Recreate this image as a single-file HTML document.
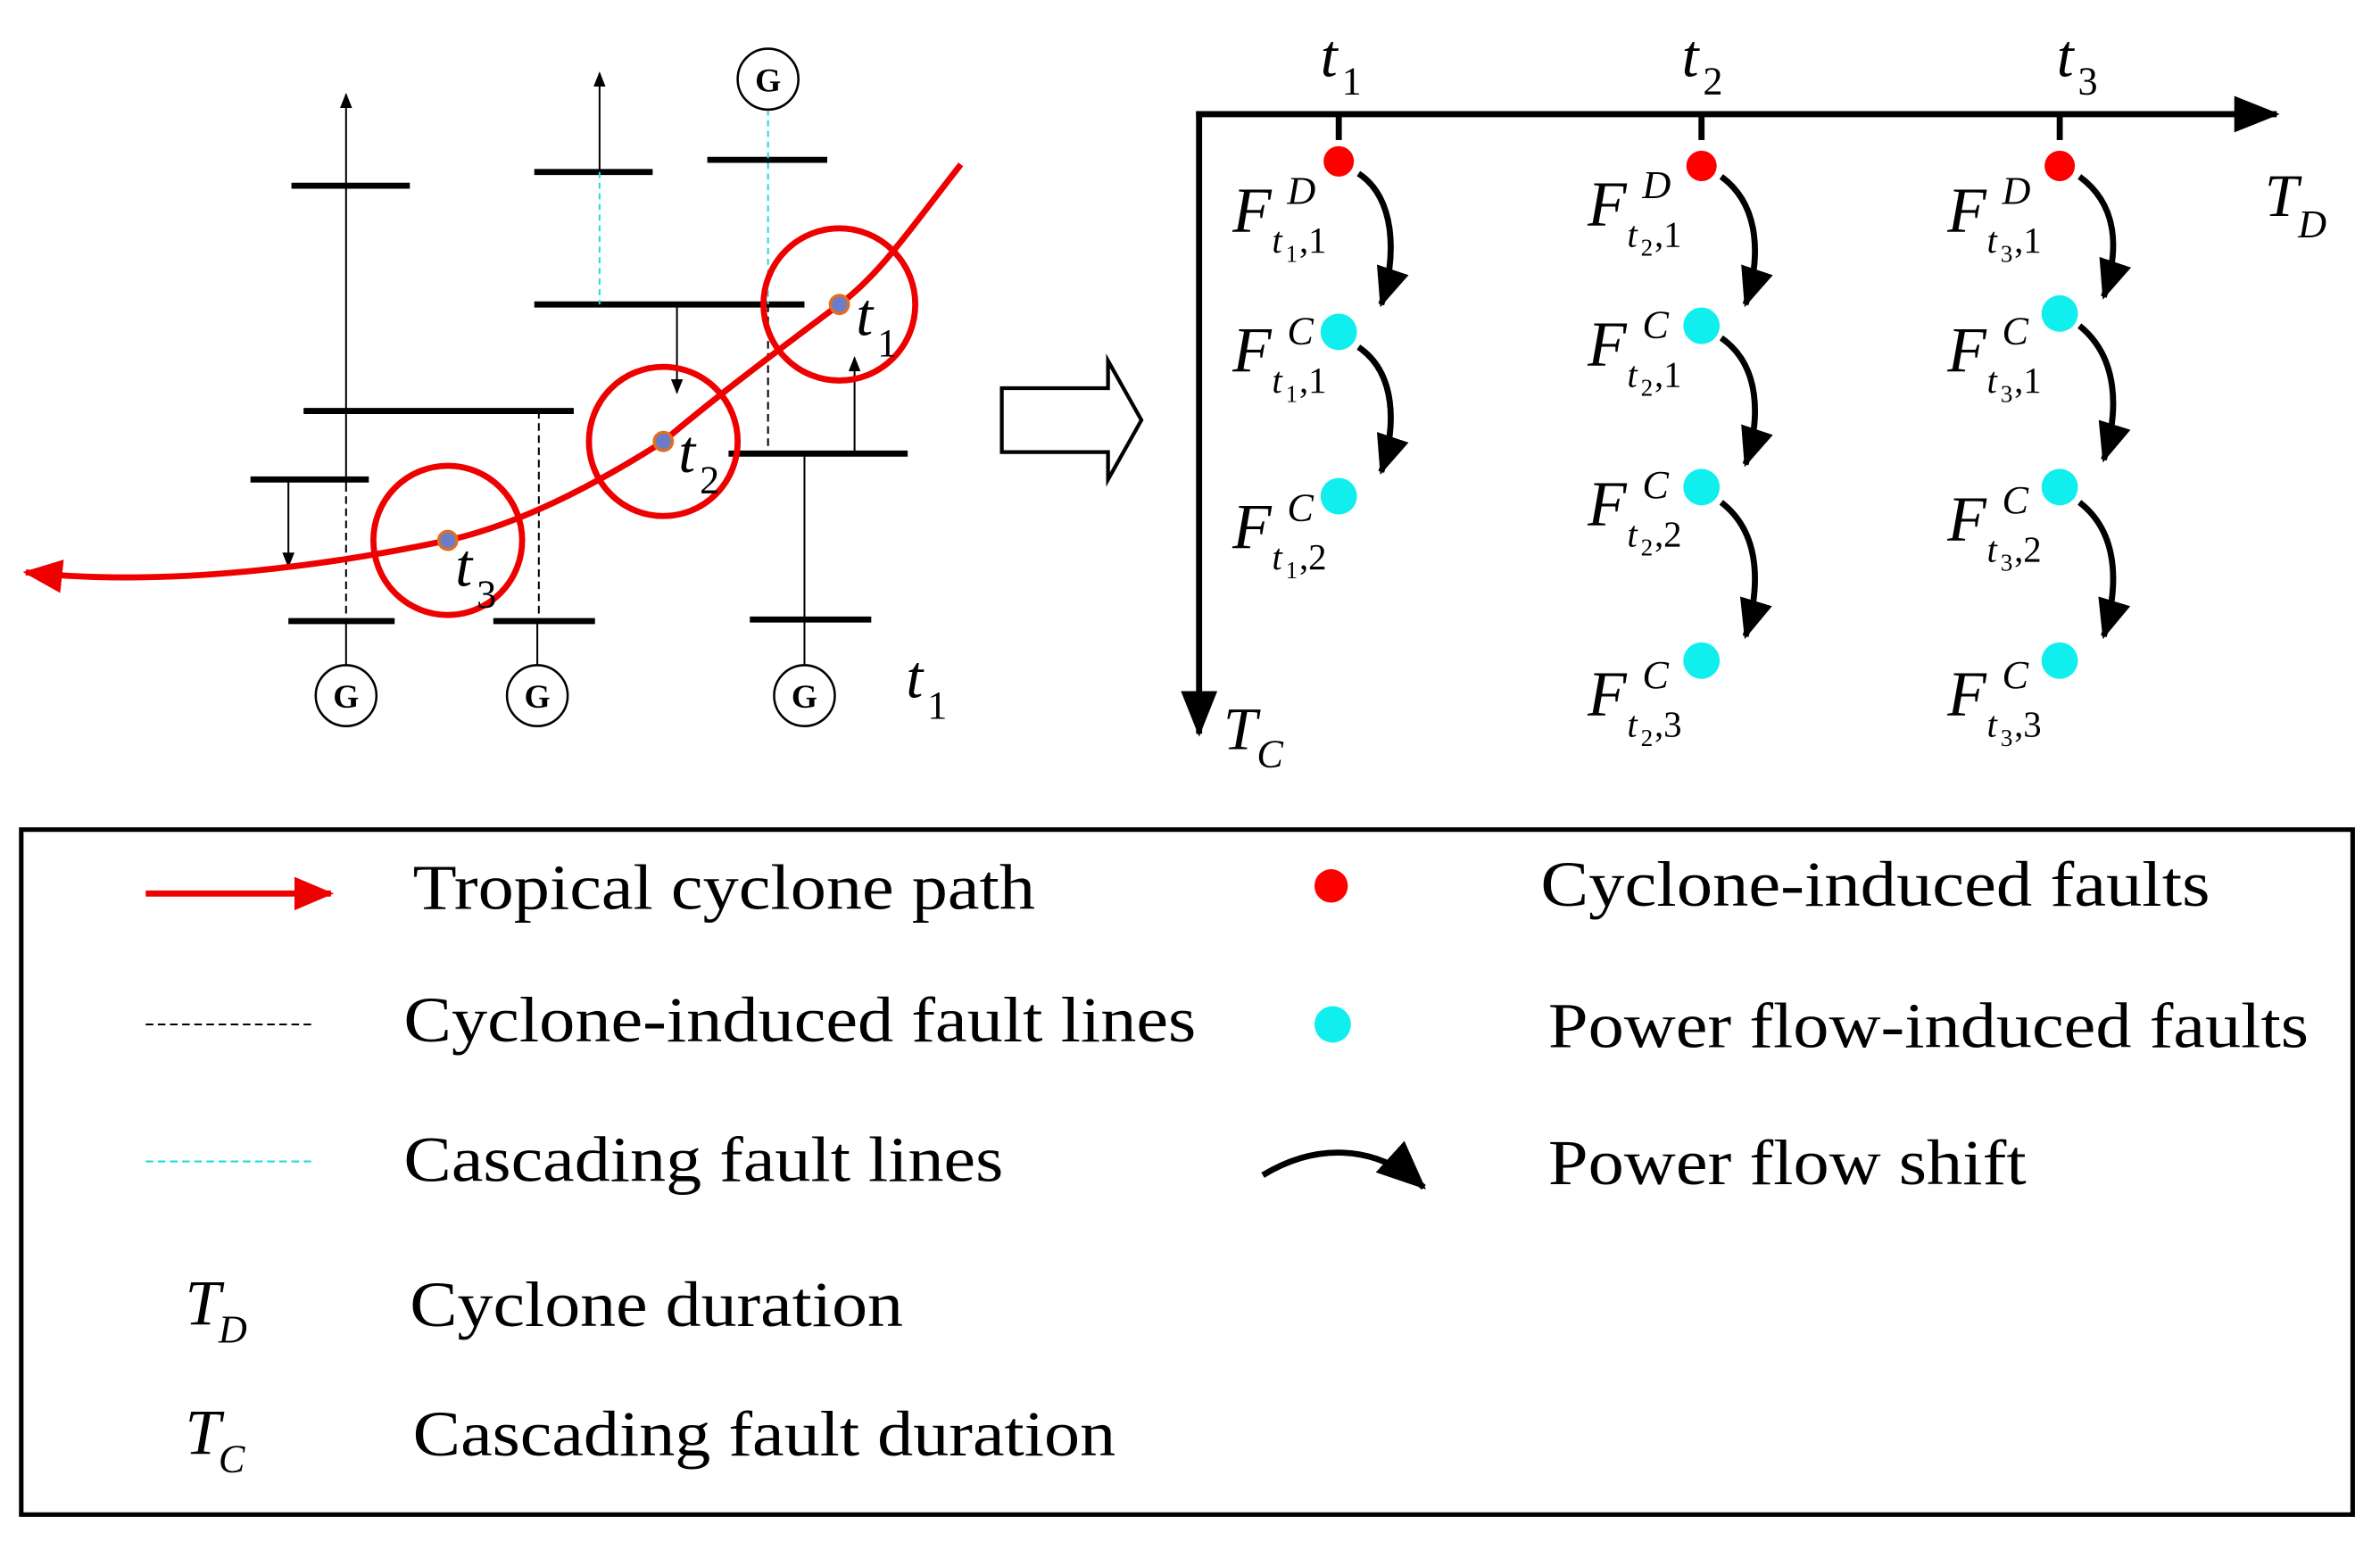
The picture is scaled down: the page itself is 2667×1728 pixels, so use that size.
<!DOCTYPE html>
<html><head><meta charset="utf-8"><style>
html,body{margin:0;padding:0;background:#fff}
svg{display:block}
text{font-family:"Liberation Serif",serif;fill:#000}
.it{font-style:italic}
</style></head><body>
<svg width="2667" height="1728" viewBox="0 0 1568 1013" preserveAspectRatio="none" xmlns="http://www.w3.org/2000/svg">
<defs>
<marker id="ah" markerWidth="10" markerHeight="10" refX="9" refY="5" orient="auto" markerUnits="userSpaceOnUse"><path d="M0,1 L10,5 L0,9 z" fill="#000"/></marker>
<marker id="bh" markerWidth="30" markerHeight="30" refX="28" refY="15" orient="auto" markerUnits="userSpaceOnUse"><path d="M0,3 L30,15 L0,27 z" fill="#000"/></marker>
<marker id="ch" markerWidth="26" markerHeight="26" refX="24" refY="13" orient="auto" markerUnits="userSpaceOnUse"><path d="M0,2 L26,13 L0,24 z" fill="#000"/></marker>
<marker id="dh" markerWidth="32" markerHeight="32" refX="30" refY="16" orient="auto" markerUnits="userSpaceOnUse"><path d="M0,2 L32,16 L0,30 z" fill="#000"/></marker>
<marker id="rh" markerWidth="26" markerHeight="26" refX="24" refY="13" orient="auto" markerUnits="userSpaceOnUse"><path d="M0,2 L26,13 L0,24 z" fill="#e00"/></marker>
</defs>
<g stroke="#000" fill="none">
<line x1="228" y1="437" x2="228" y2="62" stroke-width="1.2" marker-end="url(#ah)"/>
<line x1="228" y1="318" x2="228" y2="408" stroke="#fff" stroke-width="3"/>
<line x1="228" y1="318" x2="228" y2="408" stroke-width="1.2" stroke-dasharray="5,3"/>
<g stroke-width="4">
<line x1="192" y1="122" x2="270" y2="122"/><line x1="200" y1="270" x2="378" y2="270"/>
<line x1="165" y1="315" x2="243" y2="315"/><line x1="190" y1="408" x2="260" y2="408"/>
<line x1="352" y1="113" x2="430" y2="113"/><line x1="352" y1="200" x2="530" y2="200"/>
<line x1="325" y1="408" x2="392" y2="408"/><line x1="466" y1="105" x2="545" y2="105"/>
<line x1="480" y1="298" x2="598" y2="298"/><line x1="494" y1="407" x2="574" y2="407"/>
</g>
<line x1="190" y1="315" x2="190" y2="372" stroke-width="1.2" marker-end="url(#ah)"/>
<line x1="395" y1="113" x2="395" y2="48" stroke-width="1.2" marker-end="url(#ah)"/>
<line x1="395" y1="113" x2="395" y2="200" stroke="#2dd" stroke-width="1.2" stroke-dasharray="4,3"/>
<line x1="446" y1="200" x2="446" y2="258" stroke-width="1.2" marker-end="url(#ah)"/>
<line x1="355" y1="270" x2="355" y2="408" stroke-width="1.2" stroke-dasharray="5,3"/>
<line x1="354" y1="408" x2="354" y2="437" stroke-width="1.2"/>
<line x1="506" y1="72" x2="506" y2="200" stroke="#2dd" stroke-width="1.2" stroke-dasharray="4,3"/>
<line x1="506" y1="200" x2="506" y2="298" stroke-width="1.2" stroke-dasharray="5,3"/>
<line x1="563" y1="298" x2="563" y2="235" stroke-width="1.2" marker-end="url(#ah)"/>
<line x1="530" y1="298" x2="530" y2="437" stroke-width="1.2"/>
<g stroke-width="1.5" fill="#fff"><circle cx="228" cy="457" r="20"/><circle cx="354" cy="457" r="20"/><circle cx="530" cy="457" r="20"/><circle cx="506" cy="52" r="20"/></g>
</g>
<g font-weight="bold" font-size="22" text-anchor="middle"><text x="228" y="465">G</text><text x="354" y="465">G</text><text x="530" y="465">G</text><text x="506" y="60">G</text></g>
<g stroke="#e00" stroke-width="4" fill="none">
<circle cx="553" cy="200" r="50"/><circle cx="437" cy="290" r="49"/><circle cx="295" cy="355" r="49"/>
<path d="M633,108 C600,150 580,180 553,200 C510,232 470,262 437,290 C390,320 340,345 295,355 C200,375 100,385 17,376" marker-end="url(#rh)"/>
</g>
<g fill="#6b7cc8" stroke="#e07020" stroke-width="2"><circle cx="553" cy="200" r="6"/><circle cx="437" cy="290" r="6"/><circle cx="295" cy="355" r="6"/></g>
<g font-size="40" class="it">
<text x="564" y="220" class="it">t</text><text x="578" y="234" font-size="26" font-style="normal">1</text>
<text x="447" y="310" class="it">t</text><text x="461" y="324" font-size="26" font-style="normal">2</text>
<text x="300" y="385" class="it">t</text><text x="314" y="399" font-size="26" font-style="normal">3</text>
<text x="597" y="458" class="it">t</text><text x="611" y="472" font-size="26" font-style="normal">1</text>
</g>
<path d="M660,255 L730,255 L730,237 L752,276 L730,315 L730,297 L660,297 z" fill="#fff" stroke="#000" stroke-width="2.5"/>
<g stroke="#000" stroke-width="4" fill="none">
<line x1="788" y1="75" x2="1500" y2="75" marker-end="url(#bh)"/>
<line x1="790" y1="73" x2="790" y2="482" marker-end="url(#bh)"/>
<line x1="882" y1="75" x2="882" y2="92"/><line x1="1121" y1="75" x2="1121" y2="92"/><line x1="1357" y1="75" x2="1357" y2="92"/>
</g>
<g font-size="40">
<text x="870" y="50" class="it">t</text><text x="884" y="62" font-size="26">1</text>
<text x="1108" y="50" class="it">t</text><text x="1122" y="62" font-size="26">2</text>
<text x="1355" y="50" class="it">t</text><text x="1369" y="62" font-size="26">3</text>
<text x="1492" y="142" class="it">T</text><text x="1514" y="156" font-size="26" class="it">D</text>
<text x="806" y="492" class="it">T</text><text x="828" y="504" font-size="26" class="it">C</text>
</g>
<g fill="#f00"><circle cx="882" cy="106" r="10"/><circle cx="1121" cy="109" r="10"/><circle cx="1357" cy="109" r="10"/><circle cx="877" cy="582" r="11"/></g>
<g fill="#1ee"><circle cx="882" cy="218" r="12"/><circle cx="882" cy="326" r="12"/>
<circle cx="1121" cy="214" r="12"/><circle cx="1121" cy="320" r="12"/><circle cx="1121" cy="434" r="12"/>
<circle cx="1357" cy="206" r="12"/><circle cx="1357" cy="320" r="12"/><circle cx="1357" cy="434" r="12"/><circle cx="878" cy="673" r="12"/></g>
<g stroke="#000" stroke-width="4" fill="none">
<path d="M895,114 C920,130 920,170 910,200" marker-end="url(#ch)"/>
<path d="M895,228 C920,245 920,280 910,310" marker-end="url(#ch)"/>
<path d="M1134,116 C1160,135 1160,170 1150,200" marker-end="url(#ch)"/>
<path d="M1134,222 C1160,240 1160,275 1150,305" marker-end="url(#ch)"/>
<path d="M1134,330 C1160,350 1160,385 1150,418" marker-end="url(#ch)"/>
<path d="M1370,116 C1396,135 1396,165 1386,195" marker-end="url(#ch)"/>
<path d="M1370,214 C1396,235 1396,270 1386,302" marker-end="url(#ch)"/>
<path d="M1370,330 C1396,350 1396,385 1386,418" marker-end="url(#ch)"/>
<path d="M832,772 C865,752 905,750 938,780" marker-end="url(#dh)"/>
</g>
<g font-size="42">
<g transform="translate(812,152)"><text class="it">F</text><text x="36" y="-18" font-size="26" class="it">D</text><text x="26" y="14" font-size="24" class="it">t</text><text x="35" y="20" font-size="16">1</text><text x="44" y="14" font-size="24">,1</text></g>
<g transform="translate(812,244)"><text class="it">F</text><text x="36" y="-18" font-size="26" class="it">C</text><text x="26" y="14" font-size="24" class="it">t</text><text x="35" y="20" font-size="16">1</text><text x="44" y="14" font-size="24">,1</text></g>
<g transform="translate(812,360)"><text class="it">F</text><text x="36" y="-18" font-size="26" class="it">C</text><text x="26" y="14" font-size="24" class="it">t</text><text x="35" y="20" font-size="16">1</text><text x="44" y="14" font-size="24">,2</text></g>
<g transform="translate(1046,148)"><text class="it">F</text><text x="36" y="-18" font-size="26" class="it">D</text><text x="26" y="14" font-size="24" class="it">t</text><text x="35" y="20" font-size="16">2</text><text x="44" y="14" font-size="24">,1</text></g>
<g transform="translate(1046,240)"><text class="it">F</text><text x="36" y="-18" font-size="26" class="it">C</text><text x="26" y="14" font-size="24" class="it">t</text><text x="35" y="20" font-size="16">2</text><text x="44" y="14" font-size="24">,1</text></g>
<g transform="translate(1046,345)"><text class="it">F</text><text x="36" y="-18" font-size="26" class="it">C</text><text x="26" y="14" font-size="24" class="it">t</text><text x="35" y="20" font-size="16">2</text><text x="44" y="14" font-size="24">,2</text></g>
<g transform="translate(1046,470)"><text class="it">F</text><text x="36" y="-18" font-size="26" class="it">C</text><text x="26" y="14" font-size="24" class="it">t</text><text x="35" y="20" font-size="16">2</text><text x="44" y="14" font-size="24">,3</text></g>
<g transform="translate(1283,152)"><text class="it">F</text><text x="36" y="-18" font-size="26" class="it">D</text><text x="26" y="14" font-size="24" class="it">t</text><text x="35" y="20" font-size="16">3</text><text x="44" y="14" font-size="24">,1</text></g>
<g transform="translate(1283,244)"><text class="it">F</text><text x="36" y="-18" font-size="26" class="it">C</text><text x="26" y="14" font-size="24" class="it">t</text><text x="35" y="20" font-size="16">3</text><text x="44" y="14" font-size="24">,1</text></g>
<g transform="translate(1283,355)"><text class="it">F</text><text x="36" y="-18" font-size="26" class="it">C</text><text x="26" y="14" font-size="24" class="it">t</text><text x="35" y="20" font-size="16">3</text><text x="44" y="14" font-size="24">,2</text></g>
<g transform="translate(1283,470)"><text class="it">F</text><text x="36" y="-18" font-size="26" class="it">C</text><text x="26" y="14" font-size="24" class="it">t</text><text x="35" y="20" font-size="16">3</text><text x="44" y="14" font-size="24">,3</text></g>
</g>
<rect x="14" y="545" width="1536" height="450" fill="none" stroke="#000" stroke-width="3"/>
<line x1="96" y1="587" x2="218" y2="587" stroke="#e00" stroke-width="4" marker-end="url(#rh)"/>
<line x1="96" y1="673" x2="206" y2="673" stroke="#000" stroke-width="1.2" stroke-dasharray="5,3"/>
<line x1="96" y1="763" x2="206" y2="763" stroke="#2dd" stroke-width="1.2" stroke-dasharray="5,3"/>
<g font-size="42">
<text x="272" y="597" textLength="410" lengthAdjust="spacingAndGlyphs">Tropical cyclone path</text>
<text x="266" y="684" textLength="522" lengthAdjust="spacingAndGlyphs">Cyclone-induced fault lines</text>
<text x="266" y="776" textLength="395" lengthAdjust="spacingAndGlyphs">Cascading fault lines</text>
<text x="270" y="871" textLength="325" lengthAdjust="spacingAndGlyphs">Cyclone duration</text>
<text x="272" y="956" textLength="463" lengthAdjust="spacingAndGlyphs">Cascading fault duration</text>
<text x="1015" y="595" textLength="441" lengthAdjust="spacingAndGlyphs">Cyclone-induced faults</text>
<text x="1020" y="688" textLength="501" lengthAdjust="spacingAndGlyphs">Power flow-induced faults</text>
<text x="1020" y="778" textLength="315" lengthAdjust="spacingAndGlyphs">Power flow shift</text>
<text x="122" y="870" class="it">T</text><text x="144" y="882" font-size="26" class="it">D</text>
<text x="122" y="955" class="it">T</text><text x="144" y="967" font-size="26" class="it">C</text>
</g>
</svg>
</body></html>
